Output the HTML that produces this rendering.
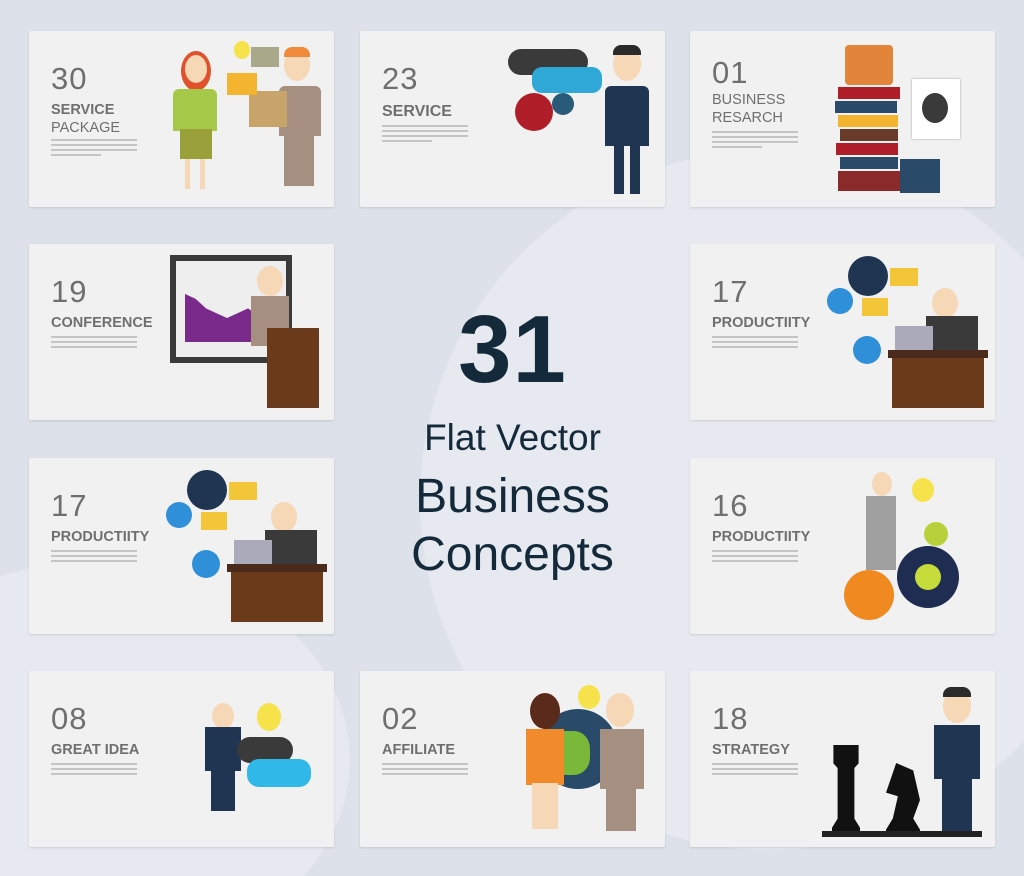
<!DOCTYPE html><html style="width:1024px;height:876px;overflow:hidden"><head><meta charset="utf-8"><style>
*{margin:0;padding:0;box-sizing:border-box}
body{width:1024px;height:876px;background:#dde2ea;position:relative;overflow:hidden;font-family:"Liberation Sans",sans-serif}
.bg{position:absolute;border-radius:50%;background:#e6e9ef}
.c{position:absolute;width:305px;height:176px;background:#f1f1f1;border-radius:2px;box-shadow:0 1px 2px rgba(0,0,0,.12);overflow:hidden}
.n{position:absolute;left:22px;top:30px;font-size:31px;color:#6f6f6f;letter-spacing:1px}
.t{position:absolute;left:22px;top:70px;font-size:14.5px;color:#6f6f6f;line-height:18px;font-weight:bold}
.t span{font-weight:normal}
.l{position:absolute;left:22px;height:2px;width:86px;background:#c4c4c4}
.a{position:absolute}
.r{position:absolute;border-radius:50%}
</style></head><body>
<div class="bg" style="left:420px;top:150px;width:700px;height:700px"></div>
<div class="bg" style="left:-150px;top:560px;width:500px;height:400px"></div>

<div class="c" style="left:29px;top:31px"><div class="n">30</div><div class="t">SERVICE<br><span>PACKAGE</span></div>
<div class="l" style="top:108px"></div><div class="l" style="top:113px"></div><div class="l" style="top:118px"></div><div class="l" style="top:123px;width:50px"></div>
<div class="r" style="left:152px;top:20px;width:30px;height:40px;background:#e0522b"></div>
<div class="r" style="left:156px;top:24px;width:22px;height:28px;background:#f6d7b6"></div>
<div class="a" style="left:144px;top:58px;width:44px;height:42px;background:#a6c94a;border-radius:6px 6px 0 0"></div>
<div class="a" style="left:151px;top:98px;width:32px;height:30px;background:#9aa03a"></div>
<div class="a" style="left:156px;top:128px;width:5px;height:30px;background:#f6d7b6"></div><div class="a" style="left:171px;top:128px;width:5px;height:30px;background:#f6d7b6"></div>
<div class="r" style="left:255px;top:18px;width:26px;height:32px;background:#f6d7b6"></div>
<div class="a" style="left:255px;top:16px;width:26px;height:10px;background:#f08a3a;border-radius:8px 8px 0 0"></div>
<div class="a" style="left:250px;top:55px;width:42px;height:50px;background:#a58f80;border-radius:6px 6px 0 0"></div>
<div class="a" style="left:255px;top:105px;width:30px;height:50px;background:#a58f80"></div>
<div class="a" style="left:220px;top:60px;width:38px;height:36px;background:#c9a46a"></div>
<div class="a" style="left:198px;top:42px;width:30px;height:22px;background:#f3b52f"></div>
<div class="r" style="left:205px;top:10px;width:16px;height:18px;background:#f6e24b"></div>
<div class="a" style="left:222px;top:16px;width:28px;height:20px;background:#a9a88a"></div>
</div>

<div class="c" style="left:360px;top:31px"><div class="n">23</div><div class="t" style="top:72px;font-size:16px">SERVICE</div>
<div class="l" style="top:94px"></div><div class="l" style="top:99px"></div><div class="l" style="top:104px"></div><div class="l" style="top:109px;width:50px"></div>
<div class="a" style="left:148px;top:18px;width:80px;height:26px;background:#3a3a3a;border-radius:14px"></div>
<div class="a" style="left:172px;top:36px;width:70px;height:26px;background:#2fa8d8;border-radius:10px"></div>
<div class="r" style="left:155px;top:62px;width:38px;height:38px;background:#b01e2a"></div>
<div class="r" style="left:192px;top:62px;width:22px;height:22px;background:#2a5a7a"></div>
<div class="r" style="left:253px;top:16px;width:28px;height:34px;background:#f6d7b6"></div>
<div class="a" style="left:253px;top:14px;width:28px;height:10px;background:#2a2a2a;border-radius:8px 8px 0 0"></div>
<div class="a" style="left:245px;top:55px;width:44px;height:60px;background:#1f3552;border-radius:6px 6px 0 0"></div>
<div class="a" style="left:254px;top:115px;width:10px;height:48px;background:#1f3552"></div><div class="a" style="left:270px;top:115px;width:10px;height:48px;background:#1f3552"></div>
</div>

<div class="c" style="left:690px;top:31px"><div class="n" style="top:24px">01</div><div class="t" style="top:60px;font-weight:normal">BUSINESS<br>RESARCH</div>
<div class="l" style="top:100px"></div><div class="l" style="top:105px"></div><div class="l" style="top:110px"></div><div class="l" style="top:115px;width:50px"></div>
<div class="a" style="left:155px;top:14px;width:48px;height:40px;background:#e2843a;border-radius:4px"></div>
<div class="a" style="left:148px;top:56px;width:62px;height:12px;background:#b01e2a"></div>
<div class="a" style="left:145px;top:70px;width:62px;height:12px;background:#2a4a6a"></div>
<div class="a" style="left:148px;top:84px;width:60px;height:12px;background:#f3b52f"></div>
<div class="a" style="left:150px;top:98px;width:58px;height:12px;background:#6a3a2a"></div>
<div class="a" style="left:146px;top:112px;width:62px;height:12px;background:#b01e2a"></div>
<div class="a" style="left:150px;top:126px;width:58px;height:12px;background:#2a4a6a"></div>
<div class="a" style="left:148px;top:140px;width:62px;height:20px;background:#8a2a2a"></div>
<div class="a" style="left:222px;top:48px;width:48px;height:60px;background:#fff;box-shadow:0 0 2px #999"></div>
<div class="r" style="left:232px;top:62px;width:26px;height:30px;background:#3a3a3a"></div>
<div class="a" style="left:210px;top:128px;width:40px;height:34px;background:#2a4a6a"></div>
</div>

<div class="c" style="left:29px;top:244px"><div class="n">19</div><div class="t">CONFERENCE</div>
<div class="l" style="top:92px"></div><div class="l" style="top:97px"></div><div class="l" style="top:102px"></div>
<div class="a" style="left:141px;top:11px;width:122px;height:108px;background:#3a3a3a"></div>
<div class="a" style="left:147px;top:17px;width:110px;height:96px;background:#eee"></div>
<div class="a" style="left:156px;top:50px;width:70px;height:48px;background:#7a2a8a;clip-path:polygon(0 0,15% 10%,30% 30%,45% 40%,60% 50%,75% 40%,90% 30%,100% 40%,100% 100%,0 100%)"></div>
<div class="r" style="left:228px;top:22px;width:26px;height:30px;background:#f6d7b6"></div>
<div class="a" style="left:222px;top:52px;width:38px;height:50px;background:#a58f80"></div>
<div class="a" style="left:238px;top:84px;width:52px;height:80px;background:#6a3a1a"></div>
</div>

<div class="c" style="left:690px;top:244px"><div class="n">17</div><div class="t">PRODUCTIITY</div>
<div class="l" style="top:92px"></div><div class="l" style="top:97px"></div><div class="l" style="top:102px"></div>
<div class="r" style="left:158px;top:12px;width:40px;height:40px;background:#1f3552"></div>
<div class="r" style="left:137px;top:44px;width:26px;height:26px;background:#2f8fd8"></div>
<div class="r" style="left:163px;top:92px;width:28px;height:28px;background:#2f8fd8"></div>
<div class="a" style="left:200px;top:24px;width:28px;height:18px;background:#f3c63a"></div>
<div class="a" style="left:172px;top:54px;width:26px;height:18px;background:#f3c63a"></div>
<div class="r" style="left:242px;top:44px;width:26px;height:30px;background:#f6d7b6"></div>
<div class="a" style="left:236px;top:72px;width:52px;height:36px;background:#3a3a3a"></div>
<div class="a" style="left:205px;top:82px;width:38px;height:26px;background:#aab"></div>
<div class="a" style="left:198px;top:106px;width:100px;height:8px;background:#4a2a1a"></div>
<div class="a" style="left:202px;top:114px;width:92px;height:50px;background:#6a3a1a"></div>
</div>

<div class="c" style="left:29px;top:458px"><div class="n">17</div><div class="t">PRODUCTIITY</div>
<div class="l" style="top:92px"></div><div class="l" style="top:97px"></div><div class="l" style="top:102px"></div>
<div class="r" style="left:158px;top:12px;width:40px;height:40px;background:#1f3552"></div>
<div class="r" style="left:137px;top:44px;width:26px;height:26px;background:#2f8fd8"></div>
<div class="r" style="left:163px;top:92px;width:28px;height:28px;background:#2f8fd8"></div>
<div class="a" style="left:200px;top:24px;width:28px;height:18px;background:#f3c63a"></div>
<div class="a" style="left:172px;top:54px;width:26px;height:18px;background:#f3c63a"></div>
<div class="r" style="left:242px;top:44px;width:26px;height:30px;background:#f6d7b6"></div>
<div class="a" style="left:236px;top:72px;width:52px;height:36px;background:#3a3a3a"></div>
<div class="a" style="left:205px;top:82px;width:38px;height:26px;background:#aab"></div>
<div class="a" style="left:198px;top:106px;width:100px;height:8px;background:#4a2a1a"></div>
<div class="a" style="left:202px;top:114px;width:92px;height:50px;background:#6a3a1a"></div>
</div>

<div class="c" style="left:690px;top:458px"><div class="n">16</div><div class="t">PRODUCTIITY</div>
<div class="l" style="top:92px"></div><div class="l" style="top:97px"></div><div class="l" style="top:102px"></div>
<div class="r" style="left:182px;top:14px;width:20px;height:24px;background:#f6d7b6"></div>
<div class="a" style="left:176px;top:38px;width:30px;height:40px;background:#a0a0a0"></div>
<div class="a" style="left:176px;top:78px;width:30px;height:34px;background:#a0a0a0"></div>
<div class="r" style="left:222px;top:20px;width:22px;height:24px;background:#f6e24b"></div>
<div class="r" style="left:234px;top:64px;width:24px;height:24px;background:#b8d13a"></div>
<div class="r" style="left:207px;top:88px;width:62px;height:62px;background:#1f2d52"></div>
<div class="r" style="left:225px;top:106px;width:26px;height:26px;background:#c6dc3a"></div>
<div class="r" style="left:154px;top:112px;width:50px;height:50px;background:#f08a20"></div>
</div>

<div class="c" style="left:29px;top:671px"><div class="n">08</div><div class="t">GREAT IDEA</div>
<div class="l" style="top:92px"></div><div class="l" style="top:97px"></div><div class="l" style="top:102px"></div>
<div class="r" style="left:183px;top:32px;width:22px;height:26px;background:#f6d7b6"></div>
<div class="a" style="left:176px;top:56px;width:36px;height:44px;background:#1f3552"></div>
<div class="a" style="left:182px;top:100px;width:24px;height:40px;background:#1f3552"></div>
<div class="r" style="left:228px;top:32px;width:24px;height:28px;background:#f6e24b"></div>
<div class="a" style="left:208px;top:66px;width:56px;height:26px;background:#3a3a3a;border-radius:13px"></div>
<div class="a" style="left:218px;top:88px;width:64px;height:28px;background:#2fb8e8;border-radius:12px"></div>
</div>

<div class="c" style="left:360px;top:671px"><div class="n">02</div><div class="t">AFFILIATE</div>
<div class="l" style="top:92px"></div><div class="l" style="top:97px"></div><div class="l" style="top:102px"></div>
<div class="r" style="left:178px;top:38px;width:80px;height:80px;background:#2a4a6a"></div>
<div class="a" style="left:190px;top:60px;width:40px;height:44px;background:#7ab83a;border-radius:40%"></div>
<div class="r" style="left:170px;top:22px;width:30px;height:36px;background:#5a2a1a"></div>
<div class="a" style="left:166px;top:58px;width:38px;height:56px;background:#f08a2a"></div>
<div class="a" style="left:172px;top:112px;width:26px;height:46px;background:#f6d7b6"></div>
<div class="r" style="left:246px;top:22px;width:28px;height:34px;background:#f6d7b6"></div>
<div class="a" style="left:240px;top:58px;width:44px;height:60px;background:#a58f80"></div>
<div class="a" style="left:246px;top:116px;width:30px;height:44px;background:#a58f80"></div>
<div class="r" style="left:218px;top:14px;width:22px;height:24px;background:#f6e24b"></div>
</div>

<div class="c" style="left:690px;top:671px"><div class="n">18</div><div class="t">STRATEGY</div>
<div class="l" style="top:92px"></div><div class="l" style="top:97px"></div><div class="l" style="top:102px"></div>
<div class="a" style="left:142px;top:74px;width:28px;height:92px;background:#111;clip-path:polygon(5% 0,95% 0,95% 20%,80% 25%,80% 80%,100% 90%,100% 100%,0 100%,0 90%,20% 80%,20% 25%,5% 20%)"></div>
<div class="a" style="left:196px;top:92px;width:34px;height:74px;background:#111;clip-path:polygon(30% 0,80% 10%,100% 50%,80% 75%,100% 90%,100% 100%,0 100%,0 90%,20% 75%,35% 45%,0 40%)"></div>
<div class="a" style="left:132px;top:160px;width:160px;height:6px;background:#222"></div>
<div class="r" style="left:253px;top:18px;width:28px;height:34px;background:#f6d7b6"></div>
<div class="a" style="left:253px;top:16px;width:28px;height:10px;background:#2a2a2a;border-radius:8px 8px 0 0"></div>
<div class="a" style="left:244px;top:54px;width:46px;height:54px;background:#1f3552"></div>
<div class="a" style="left:252px;top:106px;width:30px;height:54px;background:#1f3552"></div>
</div>

<div style="position:absolute;left:360px;top:300px;width:305px;text-align:center;color:#142a3a">
<div style="font-size:96px;font-weight:bold;line-height:100px;letter-spacing:1px">31</div>
<div style="font-size:37px;line-height:44px;margin-top:16px">Flat Vector</div>
<div style="font-size:48px;line-height:58px;margin-top:8px">Business</div>
<div style="font-size:48px;line-height:58px;margin-top:0px">Concepts</div>
</div>
</body></html>
